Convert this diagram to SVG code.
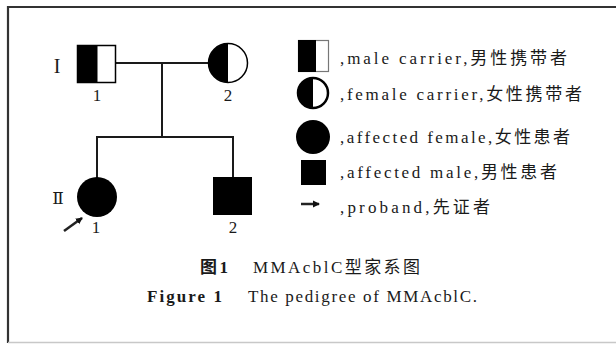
<svg xmlns="http://www.w3.org/2000/svg" width="616" height="344" viewBox="0 0 616 344">
<style>
.ln{stroke:#1a1a1a;stroke-width:2;fill:none}
.sym{stroke:#000;stroke-width:1.5}
.blk{fill:#000}
.t{fill:#1a1a1a}
.b{font-weight:bold}
</style>
<defs>
<marker id="ah" markerWidth="8" markerHeight="8" refX="6" refY="4" orient="auto" markerUnits="userSpaceOnUse">
<path d="M0,0.5 L7,4 L0,7.5 Z" fill="#111"/>
</marker>
</defs>
<rect width="616" height="344" fill="#fff"/>
<g id="frame">
<path d="M8,343 V7 H616" stroke="#333" stroke-width="2.2" fill="none"/>
<line x1="8" y1="342.5" x2="616" y2="342.5" stroke="#c8c8c8" stroke-width="1.5"/>
</g>
<g id="connectors">
<line class="ln" x1="116" y1="63" x2="208" y2="63"/>
<line class="ln" x1="162" y1="63" x2="162" y2="137"/>
<line class="ln" x1="96" y1="137" x2="234" y2="137"/>
<line class="ln" x1="97" y1="136" x2="97" y2="178"/>
<line class="ln" x1="233" y1="136" x2="233" y2="177"/>
<line x1="64" y1="231" x2="82" y2="218" stroke="#222" stroke-width="2.5" marker-end="url(#ah)"/>
</g>
<g id="gen-labels" font-family="'Liberation Serif', serif" font-size="20">
<text class="t" x="57" y="73" text-anchor="middle">I</text>
<text class="t" x="58" y="204" text-anchor="middle" font-family="'DejaVu Serif', serif" font-size="17">Ⅱ</text>
</g>
<g id="nodes" font-family="'Liberation Serif', serif" font-size="17">
<g id="I-1">
<rect x="77.5" y="45.5" width="38" height="37" fill="#fff" class="sym"/>
<rect x="77.5" y="45.5" width="20" height="37" class="blk"/>
<text class="t" x="97" y="101" text-anchor="middle">1</text>
</g>
<g id="I-2">
<circle cx="228" cy="63" r="19.5" fill="#fff" class="sym"/>
<path d="M228,43.5 A19.5,19.5 0 0 0 228,82.5 Z" class="blk"/>
<text class="t" x="228" y="101" text-anchor="middle">2</text>
</g>
<g id="II-1">
<circle cx="97" cy="197" r="20" class="blk"/>
<text class="t" x="96" y="233" text-anchor="middle">1</text>
</g>
<g id="II-2">
<rect x="213" y="177" width="39" height="38" class="blk"/>
<text class="t" x="233" y="233" text-anchor="middle">2</text>
</g>
</g>
<g id="legend" font-family="'Liberation Serif', 'Noto Sans CJK SC', serif" font-size="17">
<g id="legend-male-carrier">
<rect x="298.5" y="40.5" width="30" height="31" fill="#fff" stroke="#777" stroke-width="1.2"/>
<rect x="298" y="40" width="18" height="32" class="blk"/>
<text class="t" x="340" y="64" textLength="227" lengthAdjust="spacing">,male carrier,男性携带者</text>
</g>
<g id="legend-female-carrier">
<circle cx="313" cy="93" r="15" fill="#fff" stroke="#000" stroke-width="2.5"/>
<path d="M313,78 A15,15 0 0 0 313,108 Z" class="blk"/>
<text class="t" x="340" y="100" textLength="242" lengthAdjust="spacing">,female carrier,女性携带者</text>
</g>
<g id="legend-affected-female">
<circle cx="313" cy="137" r="17" class="blk"/>
<text class="t" x="340" y="143" textLength="230" lengthAdjust="spacing">,affected female,女性患者</text>
</g>
<g id="legend-affected-male">
<rect x="301" y="160" width="25" height="25" class="blk"/>
<text class="t" x="340" y="178" textLength="217" lengthAdjust="spacing">,affected male,男性患者</text>
</g>
<g id="legend-proband">
<line x1="301" y1="204" x2="319" y2="204" stroke="#222" stroke-width="2.5" marker-end="url(#ah)"/>
<text class="t" x="340" y="213" textLength="150" lengthAdjust="spacing">,proband,先证者</text>
</g>
</g>
<g id="caption" font-family="'Liberation Serif', 'Noto Sans CJK SC', serif" font-size="17">
<text class="t b" x="200" y="273" textLength="28" lengthAdjust="spacing">图1</text>
<text class="t" x="253" y="273" textLength="167" lengthAdjust="spacing">MMAcblC型家系图</text>
<text class="t b" x="147" y="302" textLength="75" lengthAdjust="spacing">Figure 1</text>
<text class="t" x="248" y="302" textLength="229" lengthAdjust="spacing">The pedigree of MMAcblC.</text>
</g>
</svg>
